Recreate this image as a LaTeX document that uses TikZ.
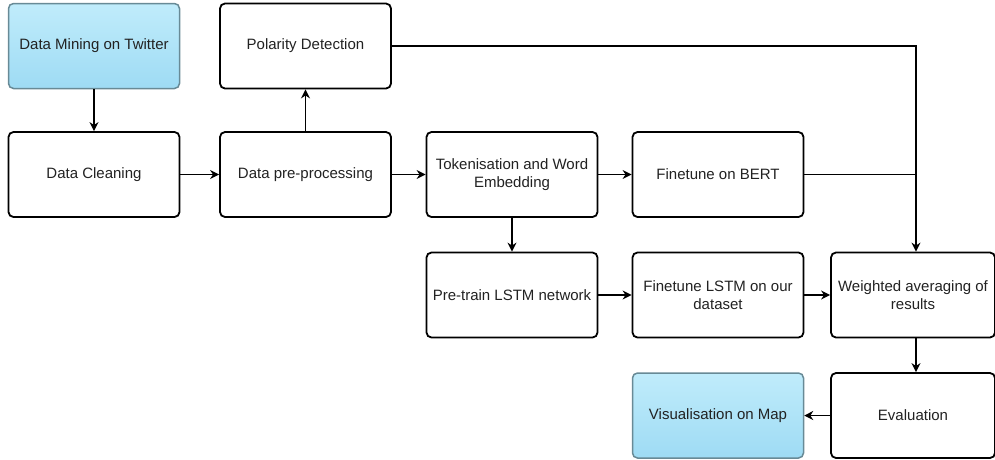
\documentclass[tikz,border=0pt]{standalone}
\usepackage{fontspec}
\setmainfont{Liberation Sans}
\usetikzlibrary{arrows.meta}
\definecolor{bluetop}{RGB}{192,236,251}
\definecolor{bluebot}{RGB}{158,219,244}
\definecolor{blueedge}{RGB}{104,138,150}
\definecolor{txt}{RGB}{34,34,34}
\begin{document}
\begin{tikzpicture}[x=1pt,y=-1pt,
  box/.style={draw=black,line width=1.8pt,rounded corners=5pt,fill=white,text=txt,
    minimum width=171pt,minimum height=85pt,align=center,font=\fontsize{15}{18}\selectfont,inner sep=2pt},
  bluebox/.style={box,draw=blueedge,line width=1.5pt,top color=bluetop,bottom color=bluebot},
  arr/.style={line width=1.3pt,-{Stealth[length=9pt,width=9pt]}},
  ln/.style={line width=1.3pt}]
\useasboundingbox (0,0) rectangle (995,459);
\clip (0,0) rectangle (995,459);
\node[bluebox] (mine) at (94,46) {Data Mining on Twitter};
\node[box] (pol) at (305.5,46) {Polarity Detection};
\node[box] (clean) at (94,174.5) {Data Cleaning};
\node[box] (pre) at (305.5,174.5) {Data pre-processing};
\node[box] (tok) at (512,174.5) {Tokenisation and Word\\Embedding};
\node[box] (bert) at (718,174.5) {Finetune on BERT};
\node[box] (lstm) at (512,295) {Pre-train LSTM network};
\node[box] (ftl) at (718,295) {Finetune LSTM on our\\dataset};
\node[box,minimum width=164pt] (wavg) at (913,295) {Weighted averaging of\\results};
\node[bluebox] (vis) at (718,415.5) {Visualisation on Map};
\node[box,minimum width=164pt] (eval) at (913,415.5) {Evaluation};
\coordinate (j1) at (916,46);
\coordinate (j2) at (916,174.5);
\draw[arr] (mine) -- (clean);
\draw[arr] (clean) -- (pre);
\draw[arr] (pre) -- (pol);
\draw[arr] (pre) -- (tok);
\draw[arr] (tok) -- (bert);
\draw[arr] (tok) -- (lstm);
\draw[arr] (lstm) -- (ftl);
\draw[arr] (ftl) -- (wavg);
\draw[ln] (pol.east) -- (j1) -- (j2);
\draw[ln] (bert.east) -- (j2);
\draw[arr] (j2) -- (j2 |- wavg.north);
\draw[arr] ([xshift=3pt]wavg.south) -- ([xshift=3pt]eval.north);
\draw[arr] (eval) -- (vis);
\end{tikzpicture}
\end{document}
